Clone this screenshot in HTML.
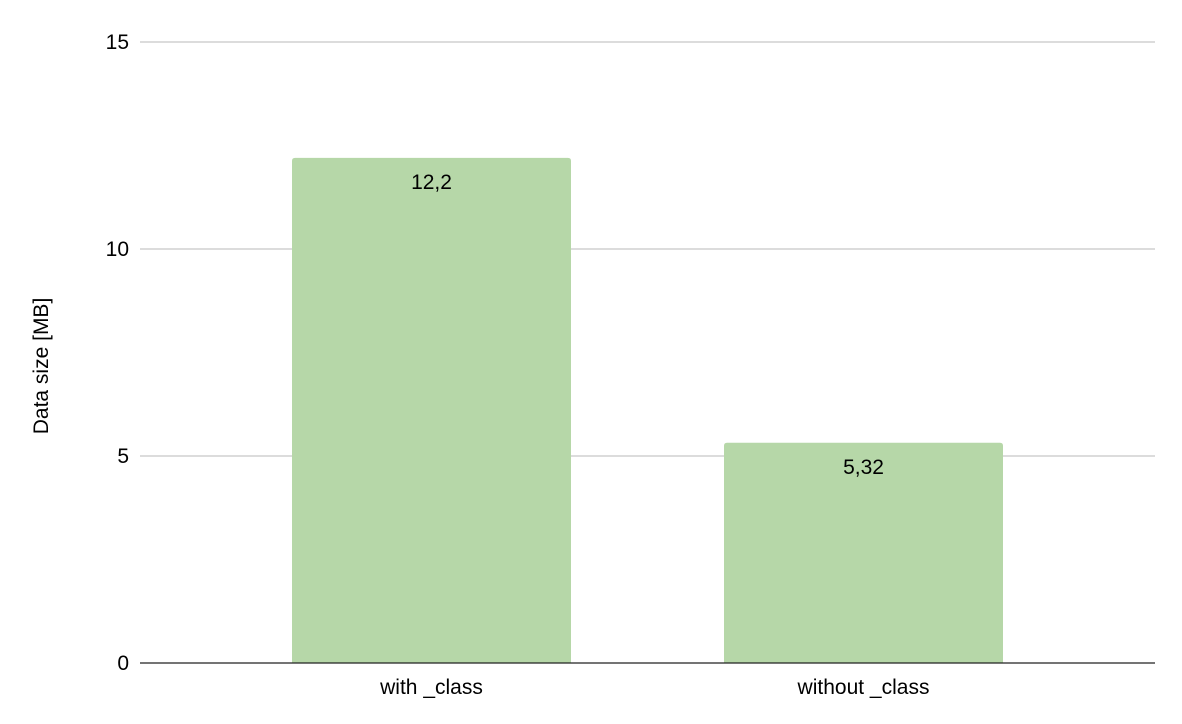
<!DOCTYPE html>
<html><head><meta charset="utf-8">
<style>
html,body{margin:0;padding:0;background:#fff;}
svg{display:block;font-family:"Liberation Sans",Arial,sans-serif;}
</style></head>
<body>
<svg id="chart" width="1182" height="724" viewBox="0 0 1182 724" xmlns="http://www.w3.org/2000/svg">
<g id="grid"></g>
<g id="yticks"></g>
<g id="bars"></g>
<g id="xticks"></g>
<line x1="140" x2="1155" y1="663" y2="663" stroke="#222" stroke-width="1.3"/>
<text transform="translate(48,366) rotate(-90)" text-anchor="middle" font-size="21" fill="#000">Data size [MB]</text>
</svg>
<script>
const categories = ["with _class", "without _class"];
const values = [12.2, 5.32];
const valueLabels = ["12,2", "5,32"];
const yTicks = [0, 5, 10, 15];
const yTickLabels = ["0", "5", "10", "15"];

const NS = "http://www.w3.org/2000/svg";
const y0 = 663, yTop = 42, yMax = 15;
const yScale = v => y0 - (v / yMax) * (y0 - yTop);
const bandStart = 215.5, band = 432, barW = 279;
const xCenter = i => bandStart + band * (i + 0.5);

function mk(tag, attrs, parent) {
  const el = document.createElementNS(NS, tag);
  for (const k in attrs) el.setAttribute(k, attrs[k]);
  parent.appendChild(el);
  return el;
}
const grid = document.getElementById('grid');
const yt = document.getElementById('yticks');
yTicks.forEach((t, i) => {
  if (t !== 0) {
    const l = mk('line', {x1: 140, x2: 1155, y1: yScale(t), y2: yScale(t), stroke: '#c8c8c8', 'stroke-width': 1.2}, grid);
    
    
  }
  const tx = mk('text', {x: 129, y: yScale(t) + 7, 'text-anchor': 'end', 'font-size': 21, fill: '#000'}, yt);
  tx.textContent = yTickLabels[i];
  
  
});
const bars = document.getElementById('bars');
const xt = document.getElementById('xticks');
categories.forEach((c, i) => {
  const cx = xCenter(i), top = yScale(values[i]);
  const r = 3;
  const x1 = cx - barW / 2, x2 = cx + barW / 2;
  const p = mk('path', {d: `M${x1},${y0} L${x1},${top + r} Q${x1},${top} ${x1 + r},${top} L${x2 - r},${top} Q${x2},${top} ${x2},${top + r} L${x2},${y0} Z`, fill: '#b6d7a8'}, bars);
  
  
  const vl = mk('text', {x: cx, y: top + 31, 'text-anchor': 'middle', 'font-size': 21, fill: '#000'}, bars);
  vl.textContent = valueLabels[i];
  
  
  const xl = mk('text', {x: cx, y: 694, 'text-anchor': 'middle', 'font-size': 21, fill: '#000'}, xt);
  xl.textContent = c;
  
  
});
</script>
</body></html>
